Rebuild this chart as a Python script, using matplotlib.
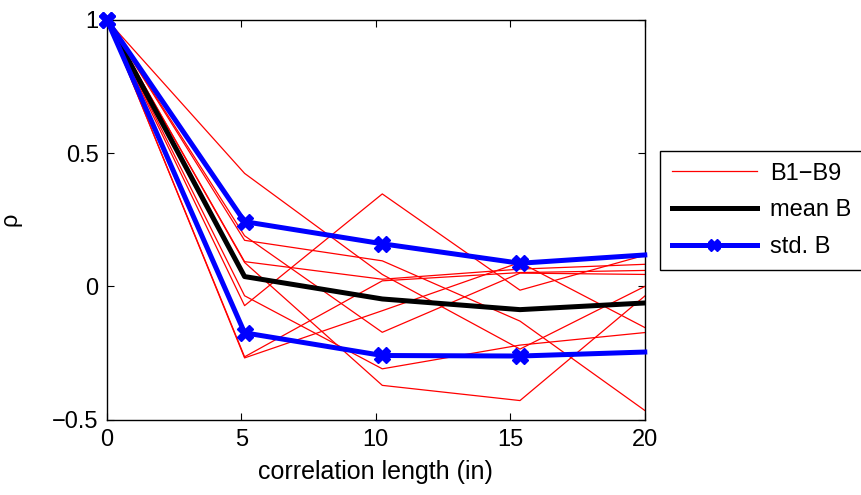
import matplotlib
matplotlib.use("Agg")
import matplotlib.pyplot as plt

plt.rcParams['font.family'] = ['Liberation Sans', 'DejaVu Sans']

x = [0, 5.12, 10.24, 15.36, 20]

b1 = [1, 0.424, 0.045, -0.235, 0.0]
b2 = [1, -0.072, 0.347, -0.014, 0.117]
b3 = [1, 0.173, 0.096, -0.13, -0.465]
b4 = [1, 0.19, -0.172, 0.05, 0.045]
b5 = [1, 0.093, 0.027, 0.065, 0.083]
b6 = [1, -0.035, -0.309, -0.22, -0.173]
b7 = [1, -0.264, 0.021, 0.052, 0.06]
b8 = [1, -0.268, -0.091, 0.09, -0.154]
b9 = [1, 0.09, -0.371, -0.428, -0.036]
series_b = [b1, b2, b3, b4, b5, b6, b7, b8, b9]

mean_b = [1, 0.037, -0.047, -0.087, -0.062]
std_upper = [1, 0.243, 0.16, 0.087, 0.118]
std_lower = [1, -0.174, -0.259, -0.261, -0.246]

xticks = [0, 5, 10, 15, 20]
yticks = [-0.5, 0, 0.5, 1]
yticklabels = ['\u22120.5', '0', '0.5', '1']

fs = 17

fig = plt.figure(figsize=(8.62, 4.95), dpi=100)
ax = fig.add_axes([0.124, 0.152, 0.624, 0.808])

for i, s in enumerate(series_b):
    ax.plot(x, s, color='red', lw=0.9, label='B1\u2212B9' if i == 0 else None)
ax.plot(x, mean_b, color='black', lw=3.6, label='mean B')
ax.plot(x, std_upper, color='blue', lw=3.6, marker='X', ms=11, markevery=[0, 1, 2, 3],
        clip_on=False, label='std. B', zorder=5)
ax.plot(x, std_lower, color='blue', lw=3.6, marker='X', ms=11, markevery=[0, 1, 2, 3],
        clip_on=False, zorder=5)

ax.set_xlim(0, 20)
ax.set_ylim(-0.5, 1)
ax.set_xticks(xticks)
ax.set_yticks(yticks)
ax.set_yticklabels(yticklabels)
ax.tick_params(direction='in', top=True, right=True, labelsize=fs, length=5, width=0.8)
ax.tick_params(axis='x', pad=7)
ax.tick_params(axis='y', pad=6)
for sp in ax.spines.values():
    sp.set_linewidth(1.0)
ax.set_xlabel('correlation length (in)', fontsize=18, labelpad=6)
ax.set_ylabel('\u03c1', fontsize=fs, labelpad=22)

leg = ax.legend(loc='upper left', bbox_to_anchor=(1.028, 0.6725), fontsize=fs,
                frameon=True, fancybox=False, edgecolor='black', framealpha=1,
                handlelength=3.6, markerscale=0.8, numpoints=1, borderpad=0.5,
                labelspacing=0.62, handletextpad=0.55, borderaxespad=0)
leg.get_frame().set_linewidth(1.0)

fig.savefig('out.png', dpi=100)
